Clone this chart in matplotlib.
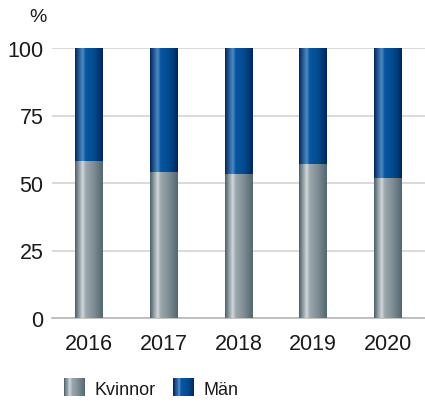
import numpy as np
import matplotlib
matplotlib.use("Agg")
import matplotlib.pyplot as plt
from matplotlib.colors import LinearSegmentedColormap
from matplotlib.patches import Rectangle
from matplotlib.legend_handler import HandlerBase

years = ["2016", "2017", "2018", "2019", "2020"]
kvinnor = [58.1, 54.1, 53.3, 57.0, 51.9]
man = [100 - v for v in kvinnor]
series_labels = ["Kvinnor", "Män"]
yticks = [0, 25, 50, 75, 100]

plt.rcParams['font.family'] = ['Liberation Sans', 'DejaVu Sans']

gray_cmap = LinearSegmentedColormap.from_list("g", [
    (0.0, "#4b5f69"), (0.28, "#d2d9dc"), (0.38, "#9ca8ae"),
    (0.7, "#7c8a91"), (1.0, "#52666f")])
blue_cmap = LinearSegmentedColormap.from_list("b", [
    (0.0, "#00265a"), (0.28, "#4c8cc8"), (0.38, "#0a56a0"),
    (0.7, "#004a8e"), (1.0, "#00265a")])

fig = plt.figure(figsize=(4.25, 4.06), dpi=100)
ax = fig.add_axes([52/425, 1-319/406, 373/425, 270/406])

x = np.arange(len(years))
width = 0.373
grad = np.linspace(0, 1, 256).reshape(1, -1)

b1 = ax.bar(x, kvinnor, width, color="#8a979d", zorder=2)
b2 = ax.bar(x, man, width, bottom=kvinnor, color="#004a8e", zorder=2)
for bars, cmap in ((b1, gray_cmap), (b2, blue_cmap)):
    for p in bars:
        x0, y0 = p.get_x(), p.get_y()
        im = ax.imshow(grad, cmap=cmap, aspect="auto",
                       extent=[x0, x0 + p.get_width(), y0, y0 + p.get_height()],
                       zorder=3, interpolation="bilinear")
        im.set_clip_path(p)

ax.set_xlim(-0.5, 4.5)
ax.set_ylim(0, 100)
ax.set_yticks(yticks)
ax.set_xticks(x)
ax.set_xticklabels(years)
ax.yaxis.grid(True, color="#d3d3d3", linewidth=1.2, zorder=0)
ax.set_axisbelow(True)
for s in ["top", "right", "left"]:
    ax.spines[s].set_visible(False)
ax.spines["bottom"].set_color("#b8b8b8")
ax.spines["bottom"].set_linewidth(1.2)
ax.tick_params(axis="both", length=0, labelsize=15.5, colors="#1a1a1a")
ax.tick_params(axis="y", pad=6)
ax.tick_params(axis="x", pad=11)
fig.text(38/425, 1-18/406, "%", fontsize=14, ha="center", va="center", color="#1a1a1a")


class GradHandler(HandlerBase):
    def __init__(self, cmap):
        super().__init__()
        self.cmap = cmap

    def create_artists(self, legend, orig_handle, xdescent, ydescent, width, height, fontsize, trans):
        n = 30
        arts = []
        for i in range(n):
            r = Rectangle((-xdescent + width * i / n, -ydescent), width / n * 1.05, height,
                          facecolor=self.cmap((i + 0.5) / n), edgecolor="none", transform=trans)
            arts.append(r)
        return arts


h1 = Rectangle((0, 0), 1, 1)
h2 = Rectangle((0, 1), 1, 1)
fig.legend([h1, h2], series_labels, loc="center left",
           bbox_to_anchor=(64/425, 1-389/406), ncol=2, frameon=False,
           handler_map={h1: GradHandler(gray_cmap), h2: GradHandler(blue_cmap)},
           fontsize=13, handlelength=1.17, handleheight=1.15, handletextpad=0.5,
           columnspacing=1.0, labelcolor="#1a1a1a", borderpad=0, borderaxespad=0)

fig.savefig("out.png", dpi=100)
